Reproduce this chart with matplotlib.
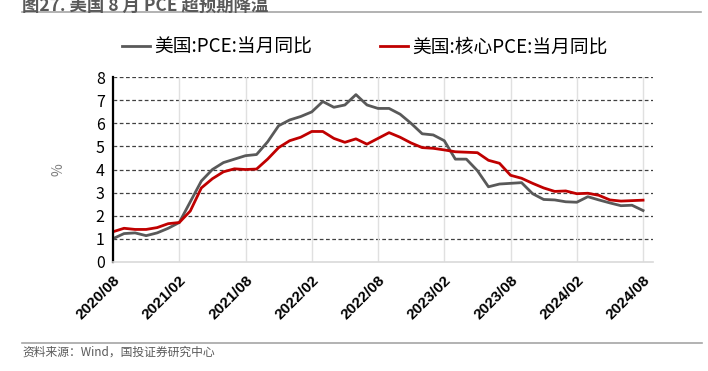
import numpy as np
import matplotlib.pyplot as plt
from matplotlib.lines import Line2D

plt.rcParams['font.family'] = ['Noto Sans CJK SC', 'DejaVu Sans']

# monthly, 2020/08 .. 2024/08
months = [f"{2020 + (7 + i) // 12}/{(7 + i) % 12 + 1:02d}" for i in range(49)]

pce = [1.0, 1.22, 1.25, 1.13, 1.25, 1.45, 1.7, 2.6, 3.5, 4.0,
       4.3, 4.45, 4.6, 4.65, 5.2, 5.9, 6.15, 6.3, 6.5, 6.95,
       6.7, 6.8, 7.25, 6.8, 6.65, 6.65, 6.4, 6.0, 5.55, 5.5,
       5.25, 4.45, 4.45, 3.95, 3.25, 3.37, 3.4, 3.43, 2.95, 2.7,
       2.68, 2.6, 2.58, 2.82, 2.68, 2.55, 2.43, 2.45, 2.22]

core_pce = [1.3, 1.45, 1.4, 1.4, 1.48, 1.65, 1.7, 2.2, 3.2, 3.6,
            3.9, 4.03, 4.0, 4.02, 4.45, 4.95, 5.25, 5.4, 5.65, 5.65,
            5.35, 5.18, 5.33, 5.1, 5.35, 5.6, 5.4, 5.15, 4.95, 4.92,
            4.85, 4.77, 4.75, 4.73, 4.4, 4.27, 3.75, 3.62, 3.4, 3.2,
            3.05, 3.07, 2.95, 2.97, 2.88, 2.68, 2.63, 2.65, 2.67]

labels = ["美国:PCE:当月同比", "美国:核心PCE:当月同比"]
gray = "#595959"
red = "#c00000"

fig = plt.figure(figsize=(7.08, 3.71), dpi=100)
ax = fig.add_axes([0.1596, 0.2946, 0.7627, 0.497])

x = np.arange(len(months))
ax.plot(x, pce, color=gray, lw=2.0, solid_joinstyle="round")
ax.plot(x, core_pce, color=red, lw=2.0, solid_joinstyle="round")

ax.set_xlim(0, 48.9)
ax.set_ylim(0, 8)
ax.set_yticks(range(9))
tick_pos = x[::6]
ax.set_xticks(tick_pos)
ax.set_xticklabels([months[i] for i in tick_pos], rotation=45, ha="right",
                   rotation_mode="anchor", fontsize=11, fontweight="bold",
                   family=["Liberation Sans", "DejaVu Sans"])
for t in ax.get_yticklabels():
    t.set_fontsize(11.5)
ax.tick_params(length=0, pad=6)
ax.tick_params(axis="x", pad=8)

ax.grid(axis="x", color="#e0e0e0", lw=1.0)
for yv in range(1, 9):
    ax.axhline(yv, color="#404040", lw=0.9, ls=(0, (3, 2)), zorder=0.5)
ax.set_axisbelow(True)

for s in ["top", "right"]:
    ax.spines[s].set_visible(False)
ax.spines["left"].set_color("black")
ax.spines["left"].set_linewidth(1.6)
ax.spines["bottom"].set_color("#d9d9d9")
ax.spines["bottom"].set_linewidth(1.2)

ax.set_ylabel("%", color="#7f7f7f", fontsize=10, labelpad=22)

handles = [Line2D([], [], color=gray, lw=2), Line2D([], [], color=red, lw=2)]
fig.legend(handles, labels, loc="center left", bbox_to_anchor=(0.148, 0.873),
           ncol=2, frameon=False, fontsize=13.5, handlelength=1.5,
           handletextpad=0.25, columnspacing=3.6)

# title (clipped at top) and footer
fig.text(0.031, 0.985, "图27. 美国 8 月 PCE 超预期降温", fontsize=12.5,
         color="#595959", fontweight="bold", va="center")
fig.add_artist(Line2D([0.031, 0.99], [0.967, 0.967], color="#a6a6a6", lw=1.2))
fig.add_artist(Line2D([0.031, 0.992], [0.075, 0.075], color="#a6a6a6", lw=1.2))
fig.text(0.031, 0.05, "资料来源：Wind，国投证券研究中心", fontsize=8.5,
         color="#595959", style="italic", va="center")

fig.savefig("out.png", dpi=100)
